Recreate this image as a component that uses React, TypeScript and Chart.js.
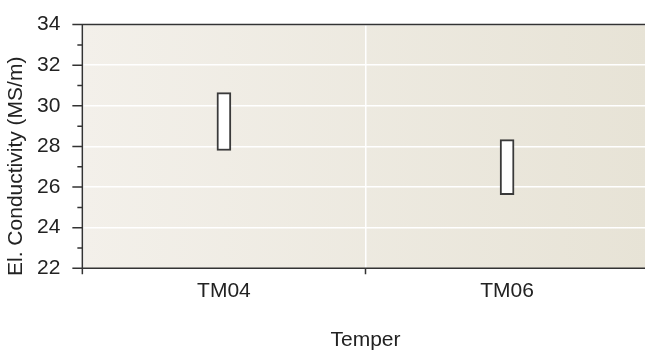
import React, { useEffect, useRef } from "react";
import { Chart, registerables } from "chart.js";

Chart.register(...registerables);

const categories = ["TM04", "TM06"];
const boxLow = [27.8, 25.62];
const boxHigh = [30.65, 28.34];
const yMin = 22;
const yMax = 34;
const yTitle = "El. Conductivity (MS/m)";
const xTitle = "Temper";

const FONT = "'Liberation Sans', Arial, Helvetica, sans-serif";
const AXIS = "#333333";
const CANVAS_W = 652;

const decorPlugin = {
  id: "decor",
  beforeDraw(chart: any) {
    const { ctx, chartArea } = chart;
    const g = ctx.createLinearGradient(chartArea.left, 0, chartArea.right, 0);
    g.addColorStop(0, "#f3f0ea");
    g.addColorStop(1, "#e7e3d6");
    ctx.save();
    ctx.fillStyle = g;
    ctx.fillRect(chartArea.left, chartArea.top, chartArea.right - chartArea.left, chartArea.bottom - chartArea.top);
    ctx.restore();
  },
  afterDraw(chart: any) {
    const { ctx, chartArea } = chart;
    const y = chart.scales.y;
    const x = chart.scales.x;
    ctx.save();
    ctx.strokeStyle = AXIS;
    ctx.lineWidth = 1.5;
    ctx.beginPath();
    for (let v = yMin; v <= yMax; v++) {
      const py = y.getPixelForValue(v);
      const len = v % 2 === 0 ? 10 : 5;
      ctx.moveTo(chartArea.left - len, py);
      ctx.lineTo(chartArea.left, py);
    }
    for (let i = 0; i <= categories.length; i++) {
      const px = x.getPixelForValue(i - 0.5);
      ctx.moveTo(px, chartArea.bottom);
      ctx.lineTo(px, chartArea.bottom + 6);
    }
    ctx.moveTo(chartArea.left, chartArea.top);
    ctx.lineTo(chartArea.left, chartArea.bottom);
    ctx.moveTo(chartArea.left, chartArea.bottom);
    ctx.lineTo(chartArea.right, chartArea.bottom);
    ctx.moveTo(chartArea.left, chartArea.top);
    ctx.lineTo(chartArea.right, chartArea.top);
    ctx.stroke();
    ctx.fillStyle = "#222222";
    ctx.font = `21px ${FONT}`;
    ctx.textAlign = "center";
    ctx.textBaseline = "middle";
    ctx.translate(16.6, 166.3);
    ctx.rotate(-Math.PI / 2);
    ctx.fillText(yTitle, 0, 0);
    ctx.restore();
  },
};

export default function App() {
  const ref = useRef<HTMLCanvasElement>(null);
  useEffect(() => {
    document.documentElement.style.overflow = "hidden";
    document.body.style.overflow = "hidden";
    const chart = new Chart(ref.current!, {
      type: "bar",
      data: {
        labels: categories,
        datasets: [
          {
            data: categories.map((_, i) => [boxLow[i], boxHigh[i]]) as any,
            backgroundColor: "#ffffff",
            borderColor: "#3a3a3a",
            borderWidth: 2,
            borderSkipped: false,
            barThickness: 14,
          },
        ],
      },
      options: {
        animation: false,
        responsive: false,
        layout: { padding: { top: 24, left: 0, right: 3.35, bottom: 0 } },
        plugins: { legend: { display: false }, tooltip: { enabled: false } },
        scales: {
          x: {
            type: "category",
            offset: true,
            grid: {
              offset: true,
              color: "#ffffff",
              lineWidth: 1.5,
              tickColor: "rgba(0,0,0,0)",
              tickLength: 6,
            },
            border: { display: false },
            ticks: { color: "#222222", font: { family: FONT, size: 21 }, padding: 4 },
            title: {
              display: true,
              text: xTitle,
              color: "#222222",
              font: { family: FONT, size: 21, lineHeight: 0.9 },
              padding: 0,
            },
            afterFit(scale: any) {
              scale.height = 350 - 268.3;
            },
          },
          y: {
            min: yMin,
            max: yMax,
            grid: {
              color: (c: any) => (c.tick && c.tick.value % 2 === 0 ? "#ffffff" : "rgba(0,0,0,0)"),
              lineWidth: 1.5,
              tickColor: "rgba(0,0,0,0)",
              tickLength: 10,
            },
            border: { display: false },
            ticks: {
              stepSize: 1,
              autoSkip: false,
              color: "#222222",
              font: { family: FONT, size: 21 },
              padding: 12,
              callback: (v: any) => (Number(v) % 2 === 0 ? String(v) : ""),
            },
            afterFit(scale: any) {
              scale.width = 82.35;
            },
          },
        },
      },
      plugins: [decorPlugin],
    });
    return () => chart.destroy();
  }, []);
  return (
    <div style={{ position: "fixed", left: 0, top: 0, width: 645, height: 350, overflow: "hidden" }}>
      <canvas ref={ref} width={CANVAS_W} height={350} style={{ display: "block" }} />
    </div>
  );
}
